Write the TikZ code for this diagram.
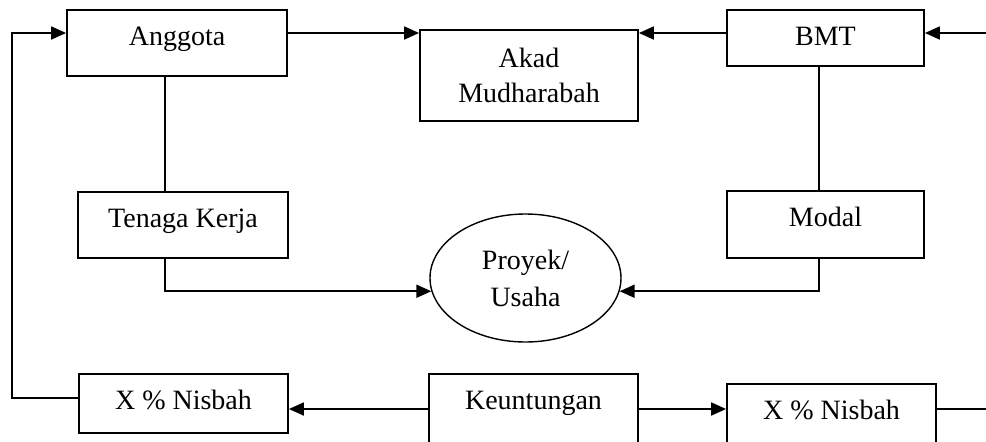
\documentclass[tikz,border=0pt]{standalone}
\usepackage{fontspec}
\setmainfont{Liberation Serif}
\usetikzlibrary{arrows.meta}
\usetikzlibrary{shapes.geometric}
\tikzset{basic/.style={draw,line width=0.9pt,text badly centered}}
\tikzset{block/.style={basic,rectangle,anchor=north,text height=10pt,
                       inner ysep=8pt,inner xsep=4pt}}
\tikzset{twoline/.style={basic,rectangle,align=center}}
\tikzset{project/.style={basic,ellipse,inner sep=0pt,align=center,line width=0.7pt,
                         minimum width=95.5pt,minimum height=64pt}}
\tikzset{link/.style={line width=0.9pt}}
\tikzset{flow/.style={link,-{Triangle[length=7.5pt,width=6.5pt]}}}

\begin{document}
\begin{tikzpicture}[x=0.5pt,y=0.5pt,font=\fontsize{14}{17.5}\selectfont]
    \useasboundingbox (0,0) rectangle (986,441);
    \clip (0,0) rectangle (986,441);

    % levels of the connectors
    \coordinate (lvl1) at (0,408);
    \coordinate (lvl4) at (0,32);
    \coordinate (cl) at (165,0);
    \coordinate (cr) at (819,0);
    \coordinate (loop) at (12,43);
    \coordinate (bmtin) at (986,408);
    \coordinate (nisout) at (986,32);

    % top row
    \node[block,minimum width=110pt,text depth=7pt] (angg) at (177,432) {Anggota};
    \node[twoline,minimum width=109pt,minimum height=45.5pt] (akad) at (529,365.5) {Akad\\Mudharabah};
    \node[block,minimum width=98.5pt,text depth=2pt] (bmt) at (825.5,432) {BMT};

    % middle row
    \node[block,minimum width=105pt,text depth=7pt] (tenaga) at (183,250) {Tenaga Kerja};
    \node[block,minimum width=98.5pt,text depth=7.5pt] (modal) at (825.5,251) {Modal};
    \node[project] (ell) at (525.5,163) {Proyek/\\[1pt]Usaha};

    % bottom row
    \node[block,minimum width=104.5pt,text depth=3.5pt] (nisL) at (183.5,68) {X \% Nisbah};
    \node[block,minimum width=104.5pt,text depth=40pt] (keu) at (533.5,68) {Keuntungan};
    \node[block,minimum width=104.5pt,text depth=40pt] (nisR) at (831.5,58) {X \% Nisbah};

    % akad
    \draw[flow] (angg.east |- lvl1) -- (akad.west |- lvl1);
    \draw[flow] (bmt.west |- lvl1) -- (akad.east |- lvl1);
    \draw[flow] (bmtin) -- (bmt.east |- lvl1);

    % labour and capital
    \draw[link] (angg.south -| cl) -- (tenaga.north -| cl);
    \draw[link] (bmt.south -| cr) -- (modal.north -| cr);
    \draw[flow] (tenaga.south -| cl) |- (ell.188);
    \draw[flow] (modal.south -| cr) |- (ell.352);

    % profit sharing
    \draw[flow] (keu.west |- lvl4) -- (nisL.east |- lvl4);
    \draw[flow] (keu.east |- lvl4) -- (nisR.west |- lvl4);
    \draw[link] (nisR.east |- lvl4) -- (nisout);
    \draw[flow] (nisL.west |- loop) -- (loop) |- (angg.west |- lvl1);
\end{tikzpicture}
\end{document}
